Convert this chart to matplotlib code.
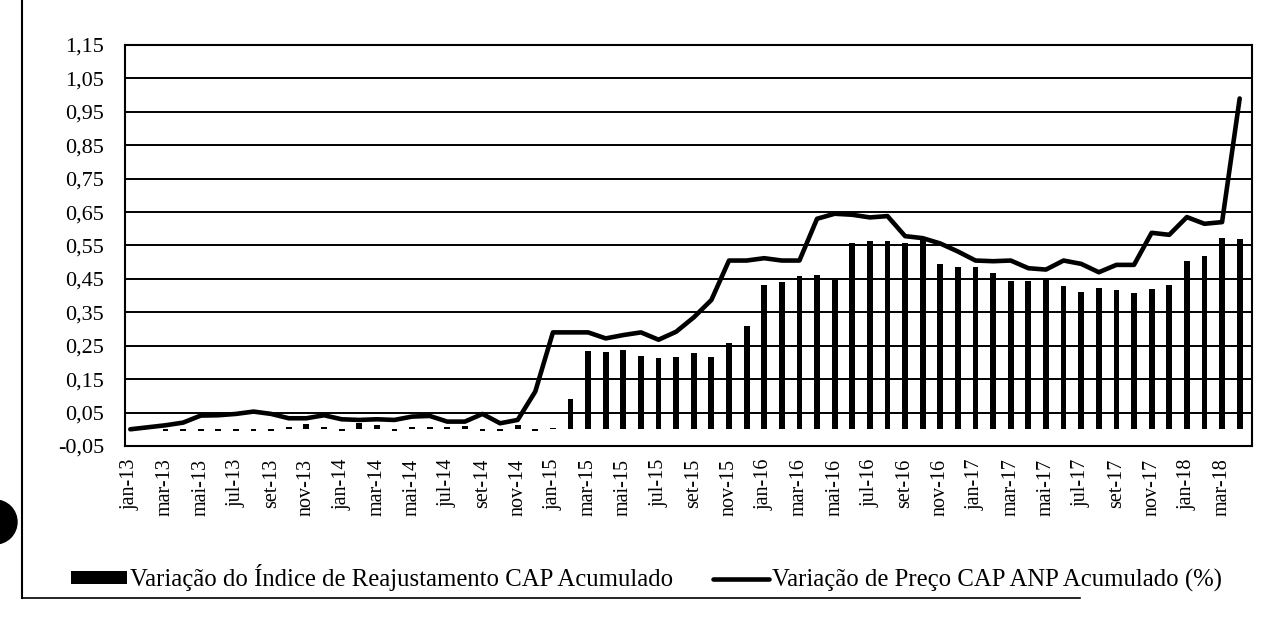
import numpy as np
import matplotlib
matplotlib.use("Agg")
import matplotlib.pyplot as plt
from matplotlib.lines import Line2D
from matplotlib.patches import Ellipse
from matplotlib.ticker import FuncFormatter

months = [
    "jan-13", "fev-13", "mar-13", "abr-13", "mai-13", "jun-13", "jul-13", "ago-13", "set-13", "out-13", "nov-13", "dez-13",
    "jan-14", "fev-14", "mar-14", "abr-14", "mai-14", "jun-14", "jul-14", "ago-14", "set-14", "out-14", "nov-14", "dez-14",
    "jan-15", "fev-15", "mar-15", "abr-15", "mai-15", "jun-15", "jul-15", "ago-15", "set-15", "out-15", "nov-15", "dez-15",
    "jan-16", "fev-16", "mar-16", "abr-16", "mai-16", "jun-16", "jul-16", "ago-16", "set-16", "out-16", "nov-16", "dez-16",
    "jan-17", "fev-17", "mar-17", "abr-17", "mai-17", "jun-17", "jul-17", "ago-17", "set-17", "out-17", "nov-17", "dez-17",
    "jan-18", "fev-18", "mar-18", "abr-18",
]

indice_cap = [
    0.000, 0.000, -0.005, -0.004, -0.004, -0.004, -0.005, -0.004, -0.005, 0.008, 0.016, 0.008,
    -0.004, 0.018, 0.014, -0.006, 0.008, 0.006, 0.008, 0.010, -0.006, -0.006, 0.014, -0.004,
    0.004, 0.092, 0.235, 0.232, 0.238, 0.218, 0.214, 0.217, 0.229, 0.216, 0.257, 0.310,
    0.432, 0.440, 0.458, 0.462, 0.448, 0.556, 0.564, 0.564, 0.558, 0.566, 0.494, 0.487,
    0.485, 0.467, 0.445, 0.445, 0.452, 0.430, 0.410, 0.422, 0.418, 0.407, 0.420, 0.432,
    0.505, 0.520, 0.572, 0.570,
]

preco_anp = [
    0.000, 0.006, 0.012, 0.020, 0.041, 0.042, 0.046, 0.053, 0.046, 0.033, 0.033, 0.042,
    0.030, 0.028, 0.030, 0.028, 0.038, 0.040, 0.023, 0.023, 0.046, 0.018, 0.028, 0.113,
    0.290, 0.290, 0.290, 0.272, 0.282, 0.290, 0.268, 0.292, 0.335, 0.387, 0.505, 0.505,
    0.512, 0.505, 0.505, 0.630, 0.645, 0.642, 0.634, 0.638, 0.578, 0.572, 0.556, 0.532,
    0.505, 0.503, 0.505, 0.482, 0.478, 0.505, 0.495, 0.470, 0.492, 0.492, 0.588, 0.582,
    0.635, 0.615, 0.620, 0.990,
]

y_ticks = [-0.05, 0.05, 0.15, 0.25, 0.35, 0.45, 0.55, 0.65, 0.75, 0.85, 0.95, 1.05, 1.15]

label_bar = "Variação do Índice de Reajustamento CAP Acumulado"
label_line = "Variação de Preço CAP ANP Acumulado (%)"

serif = ["Liberation Serif", "DejaVu Serif"]
plt.rcParams["font.family"] = serif

fig = plt.figure(figsize=(12.71, 6.24), dpi=100)
ax = fig.add_axes([125 / 1271, 1 - 446 / 624, 1127 / 1271, 401 / 624])

x = np.arange(len(months))
for yv in y_ticks[1:-1]:
    ax.axhline(yv, color="black", lw=1.4, zorder=1)

bars = ax.bar(x, indice_cap, width=0.33, color="black", zorder=2, label=label_bar)
line, = ax.plot(x, preco_anp, color="black", lw=3.3, zorder=3, solid_joinstyle="round",
                solid_capstyle="round", label=label_line)

ax.set_xlim(-0.3, len(months) - 0.3)
ax.set_ylim(y_ticks[0], y_ticks[-1])
ax.set_yticks(y_ticks)
ax.yaxis.set_major_formatter(FuncFormatter(lambda v, p: f"{v:.2f}".replace(".", ",")))
ax.set_xticks(x[::2])
ax.set_xticklabels(months[::2], rotation=90)
ax.tick_params(axis="y", length=0, pad=15, labelsize=16)
ax.tick_params(axis="x", length=0, pad=9, labelsize=14.5)

for s in ax.spines.values():
    s.set_linestyle((0, (1, 1)))
    s.set_linewidth(1.5)
    s.set_color("black")

fig.legend(handles=[bars, line], labels=[label_bar, label_line], loc="center left",
           bbox_to_anchor=(71 / 1271, 1 - 578 / 624), ncol=2,
           frameon=False, fontsize=17.8, handlelength=2.25, handleheight=0.4,
           handletextpad=0.15, columnspacing=1.6, borderaxespad=0, borderpad=0)

fig.add_artist(Line2D([22 / 1271, 22 / 1271], [1 - 598 / 624, 1.0], color="black", lw=1.5,
                      transform=fig.transFigure))
fig.add_artist(Line2D([22 / 1271, 1080 / 1271], [1 - 598 / 624, 1 - 598 / 624], color="black",
                      lw=1.2, transform=fig.transFigure))
fig.add_artist(Ellipse((-5 / 1271, 1 - 522 / 624), 44 / 1271, 44 / 624, color="black",
                       transform=fig.transFigure))

fig.savefig("out.png", dpi=100)
